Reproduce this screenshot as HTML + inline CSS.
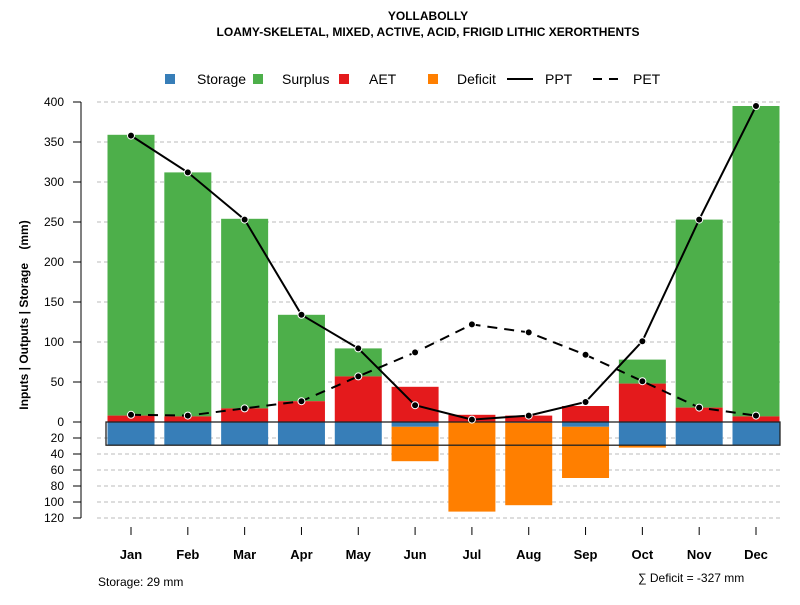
<!DOCTYPE html>
<html><head><meta charset="utf-8"><style>
body{margin:0;background:#fff}
svg text{font-family:"Liberation Sans",sans-serif}
</style></head><body>
<svg id="c" width="800" height="600" xmlns="http://www.w3.org/2000/svg">
<text x="428" y="20" text-anchor="middle" font-size="12" font-weight="bold">YOLLABOLLY</text>
<text x="428" y="36" text-anchor="middle" font-size="12" font-weight="bold">LOAMY-SKELETAL, MIXED, ACTIVE, ACID, FRIGID LITHIC XERORTHENTS</text>
<g font-size="14">
<rect x="165" y="74" width="10" height="10" fill="#377EB8"/>
<text x="197" y="84">Storage</text>
<rect x="253" y="74" width="10" height="10" fill="#4DAF4A"/>
<text x="282" y="84">Surplus</text>
<rect x="339" y="74" width="10" height="10" fill="#E41A1C"/>
<text x="369" y="84">AET</text>
<rect x="428" y="74" width="10" height="10" fill="#FF7F00"/>
<text x="457" y="84">Deficit</text>
<line x1="507" y1="79" x2="533" y2="79" stroke="#000" stroke-width="2"/>
<text x="545" y="84">PPT</text>
<line x1="593" y1="79" x2="619" y2="79" stroke="#000" stroke-width="2" stroke-dasharray="9,7"/>
<text x="633" y="84">PET</text>
</g>
<text transform="translate(28,315) rotate(-90)" text-anchor="middle" font-size="12" font-weight="bold" style="white-space:pre">Inputs | Outputs | Storage    (mm)</text>
<text x="98" y="586" font-size="12">Storage: 29 mm</text>
<text x="638" y="582" font-size="12">∑ Deficit = -327 mm</text>
</svg>
<script>
const months=["Jan","Feb","Mar","Apr","May","Jun","Jul","Aug","Sep","Oct","Nov","Dec"];
const storage=[29,29,29,29,29,6,0,1,6,29,29,29];
const aet=[8,7,17,26,57,44,9,8,20,48,18,7];
const surplus=[351,305,237,108,35,0,0,0,0,30,235,388];
const deficit=[0,0,0,0,0,43,112,103,64,3,0,0];
const ppt=[358,312,253,134,92,21,3,8,25,101,253,395];
const pet=[9,8,17,26,57,87,122,112,84,51,18,8];
const upTicks=[0,50,100,150,200,250,300,350,400];
const downTicks=[20,40,60,80,100,120];
const storageMax=29;
const svg=document.getElementById('c');
const NS="http://www.w3.org/2000/svg";
const y0=422,k=0.8;
const yUp=v=>y0-v*k, yDn=v=>y0+v*k;
const xS=i=>131+i*(625/11);
const bw=47;
function mk(t,a,p){const e=document.createElementNS(NS,t);for(const q in a)e.setAttribute(q,a[q]);(p||svg).appendChild(e);return e;}
const grid=mk('g',{});


const yax=mk('g',{'font-size':'12'});


mk('line',{x1:81,y1:yUp(400),x2:81,y2:yDn(120),stroke:'#000'},yax);
upTicks.forEach(v=>{
 const y=yUp(v);
 if(v>0){const g=mk('line',{x1:97,y1:y,x2:780,y2:y,stroke:'#bbb','stroke-dasharray':'4,3'},grid);}
 mk('line',{x1:73,y1:y,x2:81,y2:y,stroke:'#000'},yax);
 const t=mk('text',{x:64,y:y+4,'text-anchor':'end'},yax);t.textContent=v;
 
 
});
downTicks.forEach(v=>{
 const y=yDn(v);
 const g=mk('line',{x1:97,y1:y,x2:780,y2:y,stroke:'#bbb','stroke-dasharray':'4,3'},grid);
 
 
 mk('line',{x1:73,y1:y,x2:81,y2:y,stroke:'#000'},yax);
 const t=mk('text',{x:64,y:y+4,'text-anchor':'end'},yax);t.textContent=v;
 
 
});
const bars=mk('g',{});


months.forEach((m,i)=>{
 const x=xS(i)-bw/2;
 let r;
 r=mk('rect',{x:x,y:yUp(aet[i]+surplus[i]),width:bw,height:surplus[i]*k,fill:'#4DAF4A'},bars);
 
 
 r=mk('rect',{x:x,y:yUp(aet[i]),width:bw,height:aet[i]*k,fill:'#E41A1C'},bars);
 
 
 r=mk('rect',{x:x,y:y0,width:bw,height:storage[i]*k,fill:'#377EB8'},bars);
 
 
 r=mk('rect',{x:x,y:yDn(storage[i]),width:bw,height:deficit[i]*k,fill:'#FF7F00'},bars);
 
 
});
const box=mk('rect',{x:106,y:y0,width:674,height:storageMax*k,fill:'none',stroke:'#222','stroke-width':1.3});


function line(arr,dash,name){
 const g=mk('g',{});
 
 
 mk('polyline',{points:arr.map((v,i)=>xS(i)+','+yUp(v)).join(' '),fill:'none',stroke:'#000','stroke-width':2,'stroke-dasharray':dash},g);
 arr.forEach((v,i)=>{const c=mk('circle',{cx:xS(i),cy:yUp(v),r:3.5,fill:'#000',stroke:'#fff','stroke-width':1},g);
 
 });
}
line(pet,'10,7','pet-line');
line(ppt,'none','ppt-line');
const xax=mk('g',{'font-size':'13','font-weight':'bold','text-anchor':'middle'});


months.forEach((m,i)=>{
 mk('line',{x1:xS(i),y1:527,x2:xS(i),y2:535,stroke:'#000'},xax);
 const t=mk('text',{x:xS(i),y:559},xax);t.textContent=m;
 
 
});
</script>
</body></html>
